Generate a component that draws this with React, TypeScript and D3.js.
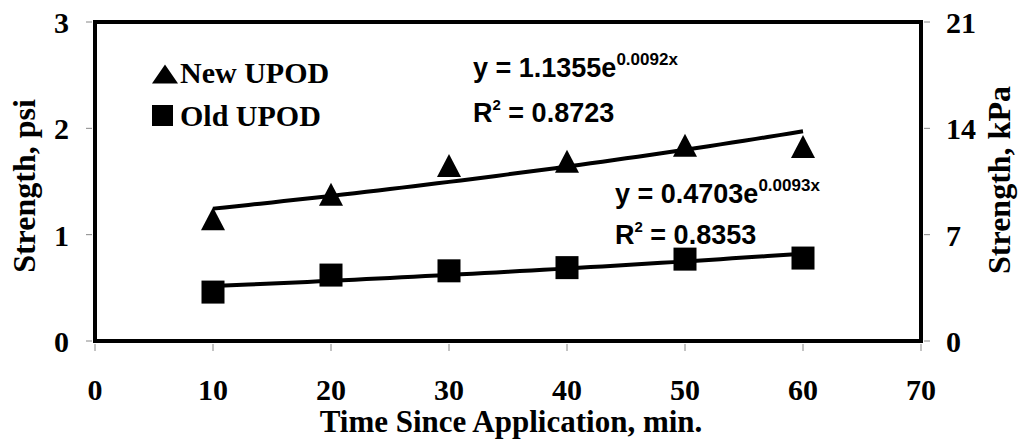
import React from "react";
import * as d3 from "d3";

const times = [10, 20, 30, 40, 50, 60];
const newUpod = [1.15, 1.38, 1.65, 1.69, 1.84, 1.83];
const oldUpod = [0.46, 0.62, 0.66, 0.69, 0.77, 0.78];
const trendA = [1.1355, 0.4703];
const trendB = [0.0092, 0.0093];
const seriesNames = ["New UPOD", "Old UPOD"];
const xTicks = [0, 10, 20, 30, 40, 50, 60, 70];
const yTicks = [0, 1, 2, 3];
const yTicksKpa = [0, 7, 14, 21];
const eqMain = ["y = 1.1355e", "y = 0.4703e"];
const eqExp = ["0.0092x", "0.0093x"];
const r2 = ["0.8723", "0.8353"];

const W = 1023;
const H = 442;
const L = 95, R = 921, T = 22, B = 341;
const serif = "'Liberation Serif', 'Times New Roman', serif";
const sans = "'Liberation Sans', Arial, sans-serif";

export default function App() {
  const x = d3.scaleLinear().domain([0, 70]).range([L, R]);
  const y = d3.scaleLinear().domain([0, 3]).range([B, T]);
  const yK = d3.scaleLinear().domain([0, 21]).range([B, T]);

  const trendPts = (a: number, b: number) =>
    d3.range(10, 60.01, 1).map((t) => [t, a * Math.exp(b * t)] as [number, number]);
  const line = d3
    .line<[number, number]>()
    .x((d) => x(d[0]))
    .y((d) => y(d[1]));

  const tri = (cx: number, cy: number, w: number, h: number) =>
    `M${cx},${cy - h / 2}L${cx + w / 2},${cy + h / 2}L${cx - w / 2},${cy + h / 2}Z`;

  return (
    <svg
      width={W}
      height={H}
      style={{ position: "absolute", left: 0, top: 0, background: "#fff" }}
    >
      <rect x={0} y={0} width={W} height={H} fill="#fff" />
      {/* tick marks */}
      {yTicks.map((t) => (
        <line key={"yl" + t} x1={L - 9} x2={L - 3} y1={y(t)} y2={y(t)} stroke="#888" strokeWidth={1} />
      ))}
      {yTicksKpa.map((t) => (
        <line key={"yr" + t} x1={R + 3} x2={R + 9} y1={yK(t)} y2={yK(t)} stroke="#888" strokeWidth={1} />
      ))}
      {xTicks.map((t) => (
        <line key={"xt" + t} x1={x(t)} x2={x(t)} y1={B + 3} y2={B + 10} stroke="#888" strokeWidth={1} />
      ))}
      {/* trend lines */}
      {trendA.map((a, i) => (
        <path key={"tr" + i} d={line(trendPts(a, trendB[i])) || ""} fill="none" stroke="#000" strokeWidth={4} />
      ))}
      {/* markers */}
      {times.map((t, i) => (
        <path key={"n" + i} d={tri(x(t), y(newUpod[i]), 24, 23)} fill="#000" />
      ))}
      {times.map((t, i) => (
        <rect key={"o" + i} x={x(t) - 11.5} y={y(oldUpod[i]) - 11.5} width={23} height={23} fill="#000" />
      ))}
      {/* plot frame */}
      <rect x={L} y={T} width={R - L} height={B - T} fill="none" stroke="#000" strokeWidth={4} />
      {/* left tick labels */}
      {yTicks.map((t) => (
        <text key={"yla" + t} x={69} y={y(t) + 11} textAnchor="end" fontFamily={serif} fontWeight="bold" fontSize={30}>
          {t}
        </text>
      ))}
      {yTicksKpa.map((t) => (
        <text key={"yra" + t} x={946} y={yK(t) + 11} textAnchor="start" fontFamily={serif} fontWeight="bold" fontSize={30}>
          {t}
        </text>
      ))}
      {xTicks.map((t) => (
        <text key={"xta" + t} x={x(t)} y={400} textAnchor="middle" fontFamily={serif} fontWeight="bold" fontSize={30}>
          {t}
        </text>
      ))}
      {/* axis titles */}
      <text x={511} y={432} textAnchor="middle" fontFamily={serif} fontWeight="bold" fontSize={31}>
        Time Since Application, min.
      </text>
      <text transform="translate(35,186) rotate(-90)" textAnchor="middle" fontFamily={serif} fontWeight="bold" fontSize={32}>
        Strength, psi
      </text>
      <text transform="translate(1010,180) rotate(-90)" textAnchor="middle" fontFamily={serif} fontWeight="bold" fontSize={32}>
        Strength, kPa
      </text>
      {/* legend */}
      <path d={tri(165, 74, 26, 19)} fill="#000" />
      <text x={180} y={83} fontFamily={serif} fontWeight="bold" fontSize={30}>
        {seriesNames[0]}
      </text>
      <rect x={152} y={105} width={21} height={21} fill="#000" />
      <text x={180} y={126} fontFamily={serif} fontWeight="bold" fontSize={30}>
        {seriesNames[1]}
      </text>
      {/* equations */}
      {[
        { x0: 473, yb: 77, yr: 122 },
        { x0: 615, yb: 203, yr: 244 },
      ].map((p, i) => (
        <g key={"eq" + i} fontFamily={sans} fontWeight="bold">
          <text x={p.x0} y={p.yb} fontSize={27}>
            <tspan>{eqMain[i]}</tspan>
            <tspan dy={-12} fontSize={17}>{eqExp[i]}</tspan>
          </text>
          <text x={p.x0} y={p.yr} fontSize={27}>
            <tspan>R</tspan>
            <tspan dy={-12} fontSize={15}>2</tspan>
            <tspan dy={12}>{" = " + r2[i]}</tspan>
          </text>
        </g>
      ))}
    </svg>
  );
}
